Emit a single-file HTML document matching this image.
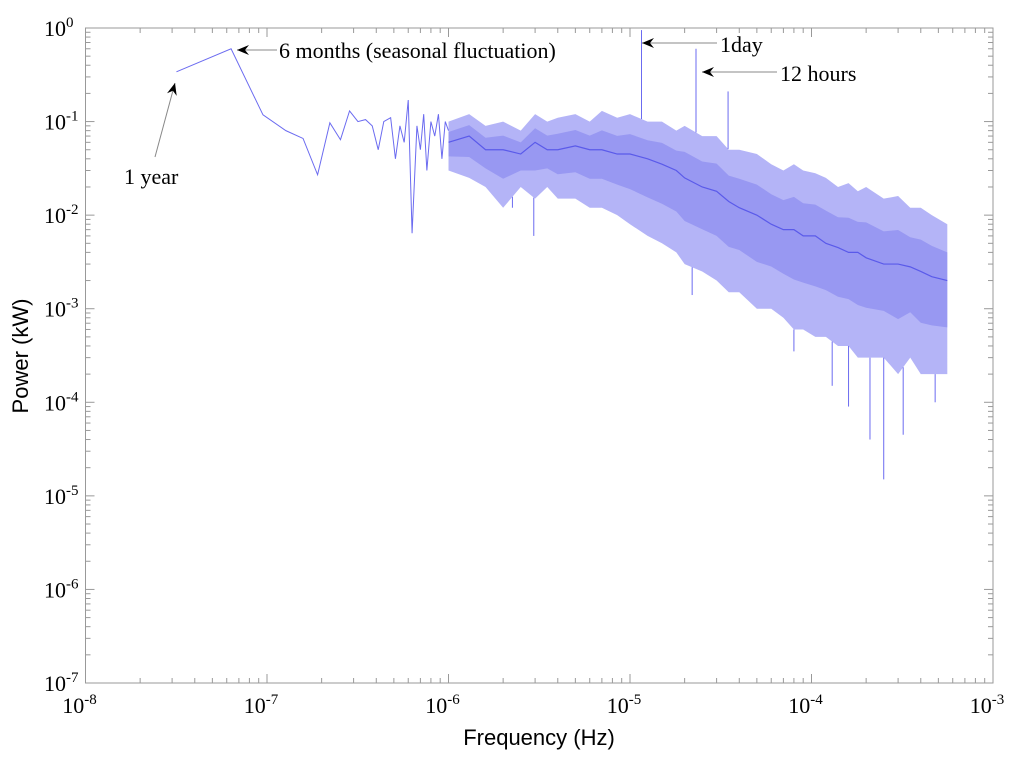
<!DOCTYPE html>
<html><head><meta charset="utf-8"><style>
body{margin:0;background:#fff}
svg text{font-family:"Liberation Serif",serif}
</style></head><body>
<svg id="c" width="1024" height="757" viewBox="0 0 1024 757" xmlns="http://www.w3.org/2000/svg"></svg>
<script>
// Low-frequency resolved points
const lowFreq=[3.17e-8,6.34e-8,9.5e-8,1.27e-7,1.58e-7,1.9e-7,2.22e-7,2.54e-7,2.85e-7,3.17e-7,3.49e-7,3.8e-7,4.1e-7,4.4e-7,4.8e-7,5.1e-7,5.4e-7,5.7e-7,6.0e-7,6.3e-7,6.7e-7,7.0e-7,7.3e-7,7.6e-7,8.0e-7,8.4e-7,8.8e-7,9.2e-7,9.6e-7,1.0e-6];
const lowPow=[0.34,0.6,0.118,0.08,0.066,0.027,0.097,0.064,0.13,0.10,0.105,0.09,0.05,0.10,0.11,0.04,0.09,0.06,0.17,0.0064,0.09,0.05,0.12,0.03,0.1,0.07,0.12,0.04,0.1,0.08];
// Dense band envelope
const bandFreq=[1e-6,1.3e-6,1.6e-6,2e-6,2.5e-6,3e-6,3.5e-6,4e-6,5e-6,6e-6,7e-6,8.5e-6,1e-5,1.25e-5,1.5e-5,1.8e-5,2e-5,2.5e-5,3e-5,3.5e-5,4e-5,5e-5,6e-5,7e-5,8e-5,9e-5,1.05e-4,1.2e-4,1.4e-4,1.6e-4,1.8e-4,2e-4,2.5e-4,3e-4,3.5e-4,4e-4,4.6e-4,5.6e-4];
const bandUpper=[0.1,0.12,0.09,0.1,0.08,0.12,0.1,0.11,0.12,0.1,0.13,0.11,0.12,0.1,0.1,0.08,0.09,0.07,0.07,0.05,0.05,0.045,0.035,0.03,0.035,0.03,0.028,0.025,0.02,0.022,0.018,0.02,0.015,0.016,0.012,0.012,0.01,0.008];
const bandLower=[0.03,0.025,0.02,0.012,0.02,0.015,0.02,0.015,0.015,0.012,0.012,0.01,0.008,0.006,0.005,0.004,0.003,0.0025,0.002,0.0015,0.0015,0.001,0.001,0.0008,0.0006,0.0006,0.0005,0.0005,0.0004,0.0004,0.0003,0.0003,0.0003,0.0002,0.0003,0.0002,0.0002,0.0002];
const bandMid=[0.06,0.07,0.05,0.05,0.045,0.06,0.05,0.05,0.055,0.05,0.05,0.045,0.045,0.04,0.035,0.03,0.025,0.02,0.018,0.014,0.012,0.01,0.008,0.007,0.007,0.006,0.006,0.005,0.0045,0.004,0.004,0.0035,0.003,0.003,0.0028,0.0025,0.0022,0.002];
// Spikes and dips
const spikeFreq=[1.157e-5,2.31e-5,3.47e-5,2.95e-6,2.25e-6,2.2e-5,8e-5,2.1e-4,2.5e-4,4.8e-4,1.3e-4,3.2e-4,1.6e-4];
const spikePow=[0.95,0.6,0.21,0.006,0.012,0.0014,0.00035,0.00004,0.000015,0.0001,0.00015,0.000045,0.00009];
const xTicks=[-8,-7,-6,-5,-4,-3];
const yTicks=[0,-1,-2,-3,-4,-5,-6,-7];

const L=85.5,R=993,T=28,B=683;
const X=f=>L+(Math.log10(f)+8)/5*(R-L);
const Y=p=>T+(-Math.log10(p))/7*(B-T);
const svg=document.getElementById('c');
const NS='http://www.w3.org/2000/svg';
function mk(tag,attrs,parent){const e=document.createElementNS(NS,tag);for(const k in attrs)e.setAttribute(k,attrs[k]);(parent||svg).appendChild(e);return e;}

let d='M'+bandFreq.map((f,i)=>X(f)+','+Y(bandUpper[i])).join('L');
for(let i=bandFreq.length-1;i>=0;i--)d+='L'+X(bandFreq[i])+','+Y(bandLower[i]);
const band=mk('path',{d:d+'Z',fill:'#b4b4f7'});


let d2='M'+bandFreq.map((f,i)=>X(f)+','+Y(Math.sqrt(bandUpper[i]*bandMid[i]))).join('L');
for(let i=bandFreq.length-1;i>=0;i--)d2+='L'+X(bandFreq[i])+','+Y(Math.sqrt(bandLower[i]*bandMid[i]));
const core=mk('path',{d:d2+'Z',fill:'#8c8cf0',opacity:'0.7'});


const mid=mk('polyline',{points:bandFreq.map((f,i)=>X(f)+','+Y(bandMid[i])).join(' '),fill:'none',stroke:'#5a5aea','stroke-width':'1.2'});


const low=mk('polyline',{points:lowFreq.map((f,i)=>X(f)+','+Y(lowPow[i])).join(' '),fill:'none',stroke:'#6b6bf0','stroke-width':'1'});


function interp(arr,f){const lf=Math.log10(f);for(let i=0;i<bandFreq.length-1;i++){const a=Math.log10(bandFreq[i]),b=Math.log10(bandFreq[i+1]);if(lf>=a&&lf<=b){const t=(lf-a)/(b-a);return Math.pow(10,Math.log10(arr[i])*(1-t)+Math.log10(arr[i+1])*t);}}return arr[arr.length-1];}
spikeFreq.forEach((f,i)=>{
  const base=spikePow[i]>0.05?interp(bandUpper,f):interp(bandLower,f);
  const s=mk('line',{x1:X(f),x2:X(f),y1:Y(base),y2:Y(spikePow[i]),stroke:'#6b6bf0','stroke-width':'1'});
  
  
});

const box=mk('rect',{x:L,y:T,width:R-L,height:B-T,fill:'none',stroke:'#999','stroke-width':'1'});


const tk=mk('g',{stroke:'#999','stroke-width':'1'});


xTicks.forEach((e,i)=>{
  const x=X(Math.pow(10,e));
  mk('line',{x1:x,x2:x,y1:B,y2:B-9},tk);mk('line',{x1:x,x2:x,y1:T,y2:T+9},tk);
  if(i<xTicks.length-1)for(let m=2;m<10;m++){const xm=X(m*Math.pow(10,e));mk('line',{x1:xm,x2:xm,y1:B,y2:B-5},tk);mk('line',{x1:xm,x2:xm,y1:T,y2:T+5},tk);}
  const t=mk('text',{x:x-6,y:B+30,'font-size':'22','text-anchor':'middle',fill:'#000'});
  
  
  t.innerHTML='10<tspan dy="-9" font-size="15">'+e+'</tspan>';
});
yTicks.forEach((e,i)=>{
  const y=Y(Math.pow(10,e));
  mk('line',{x1:L,x2:L+9,y1:y,y2:y},tk);mk('line',{x1:R,x2:R-9,y1:y,y2:y},tk);
  if(i<yTicks.length-1)for(let m=2;m<10;m++){const ym=Y(m*Math.pow(10,e-1));mk('line',{x1:L,x2:L+5,y1:ym,y2:ym},tk);mk('line',{x1:R,x2:R-5,y1:ym,y2:ym},tk);}
  const t=mk('text',{x:44,y:y+8,'font-size':'22',fill:'#000'});
  
  
  t.innerHTML='10<tspan dy="-9" font-size="15">'+e+'</tspan>';
});
const xt=mk('text',{x:539,y:745,'font-size':'22','text-anchor':'middle',style:'font-family:"Liberation Sans",sans-serif'});
xt.textContent='Frequency (Hz)';


const yt=mk('text',{x:0,y:0,'font-size':'22','text-anchor':'middle',transform:'translate(28,356) rotate(-90)',style:'font-family:"Liberation Sans",sans-serif'});
yt.textContent='Power (kW)';



function ann(name,txt,tx,ty,x1,y1,x2,y2){
  const g=mk('g',{});
  
  
  mk('line',{x1:x1,y1:y1,x2:x2,y2:y2,stroke:'#888','stroke-width':'1'},g);
  const a=Math.atan2(y2-y1,x2-x1),s=12,w=5;
  const bx=x2-s*Math.cos(a),by=y2-s*Math.sin(a);
  mk('path',{d:`M${x2},${y2}L${bx+w*Math.sin(a)},${by-w*Math.cos(a)}L${x2-8*Math.cos(a)},${y2-8*Math.sin(a)}L${bx-w*Math.sin(a)},${by+w*Math.cos(a)}Z`,fill:'#000'},g);
  const t=mk('text',{x:tx,y:ty,'font-size':'22',fill:'#000'},g);t.textContent=txt;
}
ann('annotation-6-months','6 months (seasonal fluctuation)',279,58,277,50,237,50);
ann('annotation-1-day','1day',720,52,717,43,642,43);
ann('annotation-12-hours','12 hours',780,81,777,72,702,72);
ann('annotation-1-year','1 year',124,184,155,157,175,83);
</script>
</body></html>
